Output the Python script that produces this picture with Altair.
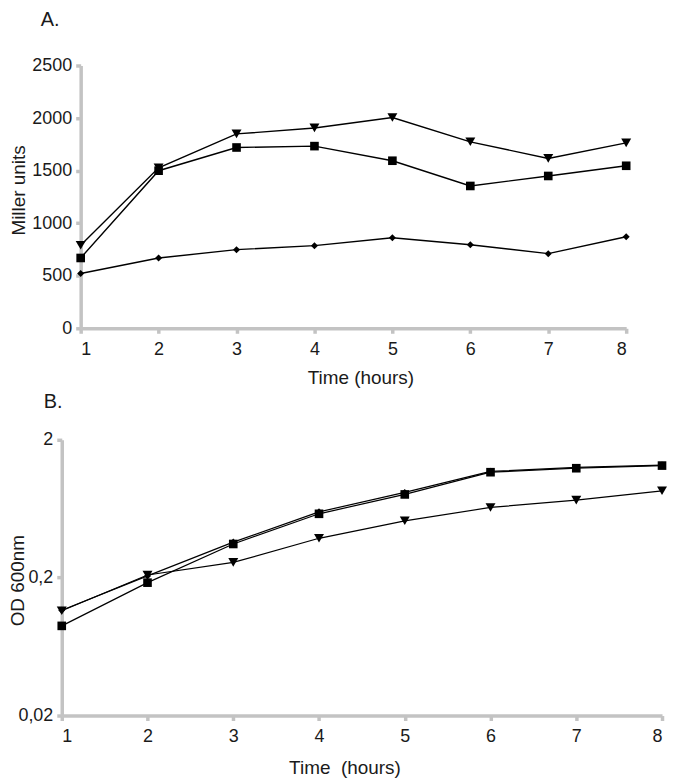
import altair as alt
import pandas as pd

hours = [1, 2, 3, 4, 5, 6, 7, 8]

# Panel A: Miller units
a_diamond = [521, 669, 748, 786, 862, 795, 710, 871]
a_square = [669, 1499, 1720, 1733, 1594, 1354, 1449, 1546]
a_triangle = [790, 1527, 1849, 1906, 2005, 1774, 1616, 1764]

# Panel B: OD 600nm (log scale)
b_diamond = [0.116, 0.206, 0.362, 0.600, 0.830, 1.180, 1.260, 1.310]
b_square = [0.0894, 0.184, 0.351, 0.581, 0.803, 1.164, 1.244, 1.300]
b_triangle = [0.115, 0.209, 0.258, 0.386, 0.517, 0.646, 0.730, 0.853]

series_names = ["diamond", "square", "triangle"]
shapes = ["diamond", "square", "triangle-down"]

def long_df(d, s, t):
    rows = []
    for name, vals in zip(series_names, [d, s, t]):
        for h, v in zip(hours, vals):
            rows.append({"hour": h, "value": v, "series": name})
    return pd.DataFrame(rows)

dfA = long_df(a_diamond, a_square, a_triangle)
dfB = long_df(b_diamond, b_square, b_triangle)

FONT = "Liberation Sans"
GRAY = "#c3c3c3"
INK = "#1a1a1a"

axis_common = dict(
    domainColor=GRAY, domainWidth=3.5, tickColor=GRAY, tickWidth=3.5, tickSize=5,
    grid=False, labelFont=FONT, labelFontSize=18, labelColor=INK,
    titleFont=FONT, titleFontSize=19, titleFontWeight="normal", titleColor=INK,
)

# ---- Panel A ----
A_W = 567
xA = alt.X("hour:Q", scale=alt.Scale(domain=[1, 8], range=[19, A_W], nice=False, zero=False),
           axis=alt.Axis(values=hours, format="d", title="Time (hours)", labelPadding=7,
                         titlePadding=10, titleX=300, **axis_common))
yA = alt.Y("value:Q", scale=alt.Scale(domain=[0, 2500], nice=False),
           axis=alt.Axis(values=[0, 500, 1000, 1500, 2000, 2500], format="d", title="Miller units",
                         offset=-19, labelPadding=4, titleX=-56, titleY=125,
                         titleAngle=270, titleAlign="center", titleBaseline="alphabetic",
                         **axis_common))

lineA = alt.Chart(dfA).mark_line(color="black", strokeWidth=1.4).encode(
    x=xA, y=yA, detail="series:N")
ptsA = alt.Chart(dfA).mark_point(filled=True, color="black", opacity=1).encode(
    x=xA, y=yA,
    shape=alt.Shape("series:N", scale=alt.Scale(domain=series_names, range=shapes), legend=None),
    size=alt.Size("series:N", scale=alt.Scale(domain=series_names, range=[50, 100, 75]), legend=None),
)
chartA = alt.layer(lineA, ptsA).properties(
    width=A_W, height=264,
    title=alt.TitleParams("A.", anchor="start", frame="group", dx=-21, offset=27,
                          font=FONT, fontSize=20, fontWeight="normal", color=INK),
)

# ---- Panel B ----
B_W = 603
xB = alt.X("hour:Q", scale=alt.Scale(domain=[1, 8], nice=False, zero=False),
           axis=alt.Axis(values=hours, format="d", title="Time\u00a0\u00a0(hours)", labelPadding=7,
                         titlePadding=13, titleX=284, **axis_common))
yB = alt.Y("value:Q", scale=alt.Scale(type="log", domain=[0.02, 2], nice=False),
           axis=alt.Axis(values=[0.02, 0.2, 2], title="OD 600nm",
                         labelExpr="datum.value > 1 ? '2' : (datum.value > 0.1 ? '0,2' : '0,02')",
                         labelPadding=4, titleX=-38, titleY=141,
                         titleAngle=270, titleAlign="center", titleBaseline="alphabetic",
                         **axis_common))

lineB = alt.Chart(dfB).mark_line(color="black", strokeWidth=1.2).encode(
    x=xB, y=yB, detail="series:N")
ptsB = alt.Chart(dfB).mark_point(filled=True, color="black", opacity=1).encode(
    x=xB, y=yB,
    shape=alt.Shape("series:N", scale=alt.Scale(domain=series_names, range=shapes), legend=None),
    size=alt.Size("series:N", scale=alt.Scale(domain=series_names, range=[40, 70, 60]), legend=None),
)
chartB = alt.layer(lineB, ptsB).properties(
    width=B_W, height=277,
    title=alt.TitleParams("B.", anchor="start", frame="group", dx=-18, offset=19,
                          font=FONT, fontSize=20, fontWeight="normal", color=INK),
)

chart = alt.vconcat(chartA, chartB, spacing=5).properties(
    padding={"left": 1, "top": 0, "right": 0, "bottom": 0}
).configure_view(stroke=None)

chart.save("out.html", embed_options={"renderer": "svg", "actions": False})
